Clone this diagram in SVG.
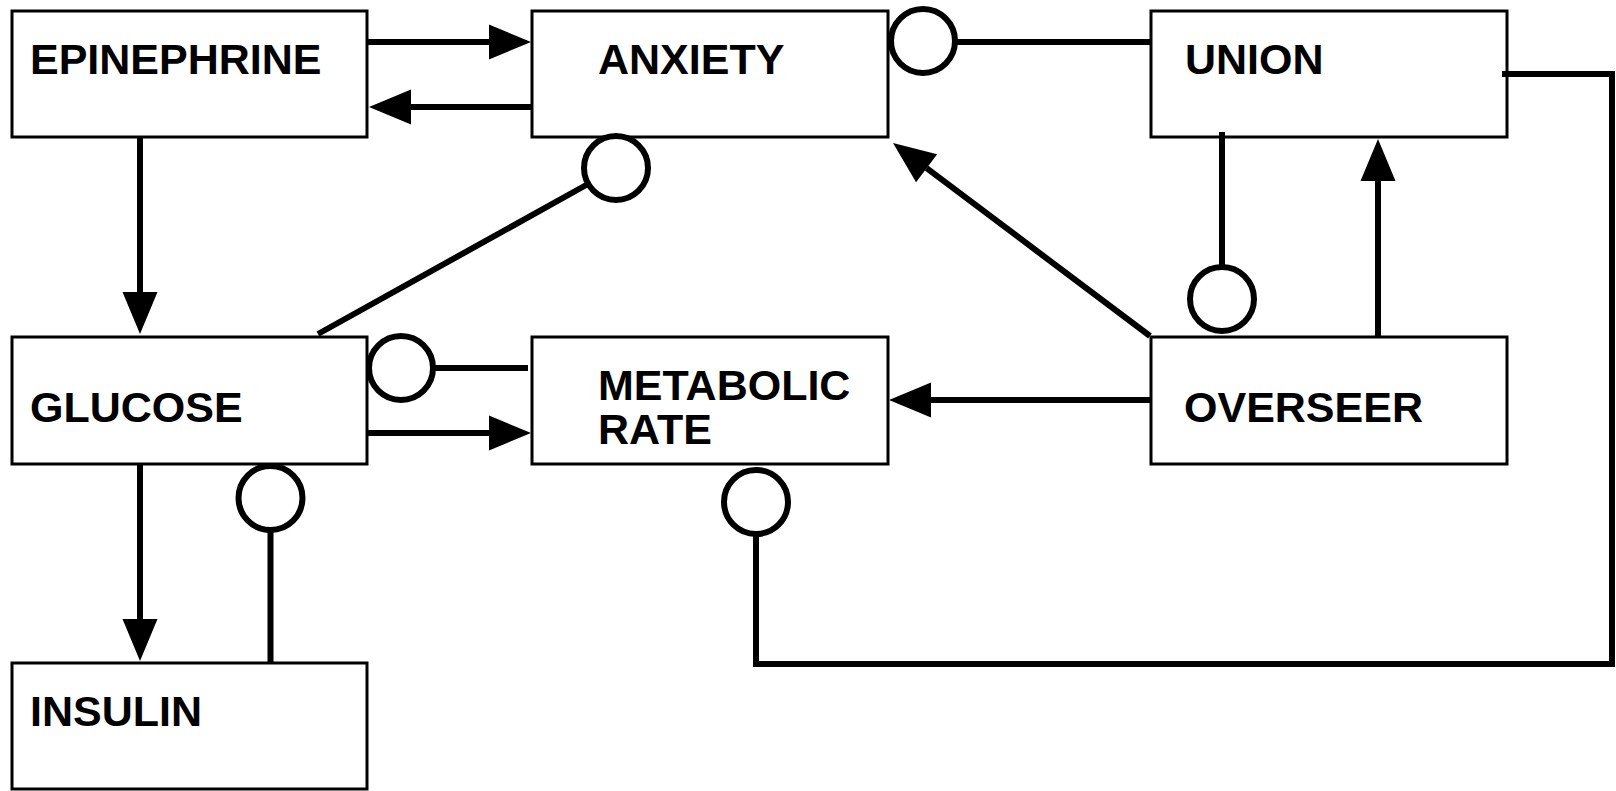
<svg xmlns="http://www.w3.org/2000/svg" width="1616" height="791" viewBox="0 0 1616 791">
<style>
.box{fill:#fff;stroke:#000;stroke-width:3}
.lbl{font-family:"Liberation Sans",Arial,Helvetica,sans-serif;font-weight:bold;font-size:43px;fill:#000}
.c{fill:none;stroke:#000;stroke-width:6;stroke-linecap:butt;stroke-linejoin:miter}
.a{fill:none;stroke:#000;stroke-width:6;marker-end:url(#ah)}
.ring{fill:#fff;stroke:#000;stroke-width:6}
</style>
<defs>
<marker id="ah" markerUnits="userSpaceOnUse" markerWidth="44" markerHeight="36" refX="0" refY="17.5" orient="auto" overflow="visible">
<path d="M0,0 L42,17.5 L0,35 Z" fill="#000"/>
</marker>
</defs>
<rect width="1616" height="791" fill="#fff"/>
<g id="epinephrine"><rect class="box" x="12" y="11" width="355" height="126"/><text class="lbl" x="30" y="74">EPINEPHRINE</text></g>
<g id="anxiety"><rect class="box" x="532" y="11" width="356" height="126"/><text class="lbl" x="598" y="74">ANXIETY</text></g>
<g id="union"><rect class="box" x="1151" y="11" width="356" height="126"/><text class="lbl" x="1185" y="74">UNION</text></g>
<g id="glucose"><rect class="box" x="12" y="337" width="355" height="127"/><text class="lbl" x="30" y="422">GLUCOSE</text></g>
<g id="metabolic-rate"><rect class="box" x="532" y="337" width="356" height="127"/><text class="lbl" x="598" y="400">METABOLIC</text><text class="lbl" x="598" y="444">RATE</text></g>
<g id="overseer"><rect class="box" x="1151" y="337" width="356" height="127"/><text class="lbl" x="1184" y="422">OVERSEER</text></g>
<g id="insulin"><rect class="box" x="12" y="663" width="355" height="126"/><text class="lbl" x="30" y="726">INSULIN</text></g>
<g id="connectors">
<line class="a" x1="367" y1="42" x2="489" y2="42"/>
<line class="a" x1="532" y1="107" x2="411" y2="107"/>
<line class="a" x1="140" y1="137" x2="140" y2="292"/>
<line class="a" x1="140" y1="464" x2="140" y2="619"/>
<line class="a" x1="367" y1="433" x2="489" y2="433"/>
<line class="a" x1="1151" y1="400" x2="931" y2="400"/>
<line class="a" x1="1378" y1="337" x2="1378" y2="181"/>
<line class="a" x1="1150" y1="336" x2="926.6" y2="168.2"/>
<line class="c" x1="955" y1="42" x2="1151" y2="42"/>
<circle class="ring" cx="923" cy="41" r="32"/>
<line class="c" x1="318" y1="334" x2="588" y2="184"/>
<circle class="ring" cx="616" cy="168" r="32"/>
<line class="c" x1="1222" y1="132" x2="1222" y2="267"/>
<circle class="ring" cx="1222" cy="299" r="32"/>
<line class="c" x1="433" y1="368" x2="528" y2="368"/>
<circle class="ring" cx="401" cy="368" r="32"/>
<line class="c" x1="270.5" y1="530" x2="270.5" y2="663"/>
<circle class="ring" cx="270.5" cy="498" r="32"/>
<polyline class="c" points="1502,74 1612,74 1612,664 756,664 756,534"/>
<circle class="ring" cx="756" cy="502" r="32"/>
</g>
</svg>
